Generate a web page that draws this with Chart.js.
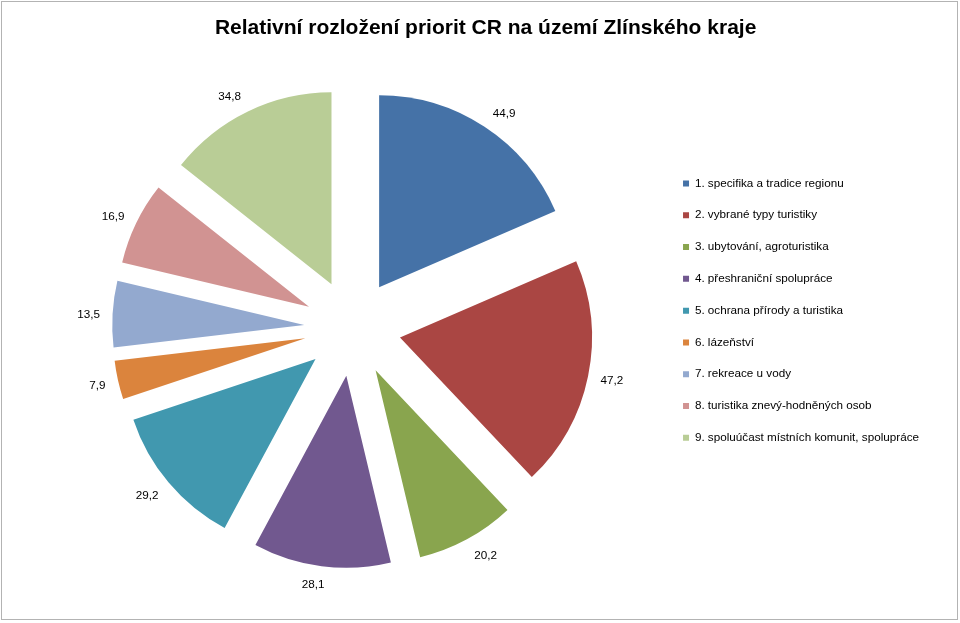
<!DOCTYPE html>
<html>
<head>
<meta charset="utf-8">
<script src="https://cdn.jsdelivr.net/npm/chart.js@4/dist/chart.umd.min.js"></script>
<style>
  html, body { margin: 0; padding: 0; background: #fff; }
  #wrap { position: relative; width: 960px; height: 623px; }
  #frame { position: absolute; left: 1px; top: 1px; width: 955px; height: 617px; border: 1px solid #b3b3b3; }
  canvas { position: absolute; left: 0; top: 0; }
</style>
</head>
<body>
<div id="wrap">
  <div id="frame"></div>
  <canvas id="graf" width="960" height="623"></canvas>
</div>
<script>
// DATA
const kategorie = [
  "1. specifika a tradice regionu",
  "2. vybrané typy turistiky",
  "3. ubytování, agroturistika",
  "4. přeshraniční spolupráce",
  "5. ochrana přírody a turistika",
  "6. lázeňství",
  "7. rekreace u vody",
  "8. turistika znevý-hodněných osob",
  "9. spoluúčast místních komunit, spolupráce"
];
const hodnoty = [44.9, 47.2, 20.2, 28.1, 29.2, 7.9, 13.5, 16.9, 34.8];

const barvy = [
  "#4572A7", "#AA4643", "#89A54E", "#71588F", "#4198AF",
  "#DB843D", "#93A9CF", "#D19392", "#B9CD96"
];

const ODSUN = 48.4;    // vysunuti vysecu
const POLOMER = 192;
const PISMO = "'Liberation Sans', Arial, sans-serif";

// vysunute vysece - kreslime elementy knihovny s posunem
const vysunuti = {
  id: "vysunuti",
  beforeDatasetDraw(chart, args) {
    const ctx = chart.ctx;
    args.meta.data.forEach(arc => {
      const p = arc.getProps(["startAngle", "endAngle"], true);
      const mid = (p.startAngle + p.endAngle) / 2;
      ctx.save();
      ctx.translate(Math.cos(mid) * ODSUN, Math.sin(mid) * ODSUN);
      arc.draw(ctx);
      ctx.restore();
    });
    return false;
  }
};

// popisky hodnot (vne vysece, jako "vnejsi konec")
const popisky = {
  id: "popisky",
  afterDatasetsDraw(chart) {
    const ctx = chart.ctx;
    const meta = chart.getDatasetMeta(0);
    ctx.save();
    ctx.font = "11.7px " + PISMO;
    ctx.fillStyle = "#000";
    ctx.textAlign = "center";
    ctx.textBaseline = "middle";
    meta.data.forEach((arc, i) => {
      const p = arc.getProps(["x", "y", "startAngle", "endAngle", "outerRadius"], true);
      const mid = (p.startAngle + p.endAngle) / 2;
      const txt = hodnoty[i].toFixed(1).replace(".", ",");
      const pulW = ctx.measureText(txt).width / 2 + 2.6;
      const cx = Math.cos(mid), sy = Math.sin(mid);
      const r = ODSUN + p.outerRadius + 10;
      const dx = Math.sign(cx) * Math.min(1, Math.abs(cx) * 4) * pulW;
      const dy = sy * 7.5 + 1.5;
      ctx.fillText(txt, p.x + cx * r + dx, p.y + sy * r + dy);
    });
    ctx.restore();
  }
};

new Chart(document.getElementById("graf"), {
  type: "pie",
  data: {
    labels: kategorie,
    datasets: [{
      data: hodnoty,
      backgroundColor: barvy,
      borderWidth: 0,
      radius: POLOMER
    }]
  },
  options: {
    responsive: false,
    animation: false,
    events: [],
    layout: {
      padding: { left: 42.2, right: 31, top: 0, bottom: 124.9 }
    },
    plugins: {
      title: {
        display: true,
        text: "Relativní rozložení priorit CR na území Zlínského kraje",
        color: "#000",
        font: { family: PISMO, size: 21, weight: "bold" },
        padding: { top: 15.4, bottom: 116.9 }
      },
      legend: {
        position: "right",
        align: "start",
        fullSize: false,
        labels: {
          boxWidth: 6,
          boxHeight: 6,
          padding: 20.1,
          color: "#000",
          font: { family: PISMO, size: 11.7 }
        }
      },
      tooltip: { enabled: false }
    }
  },
  plugins: [vysunuti, popisky]
});
</script>
</body>
</html>
